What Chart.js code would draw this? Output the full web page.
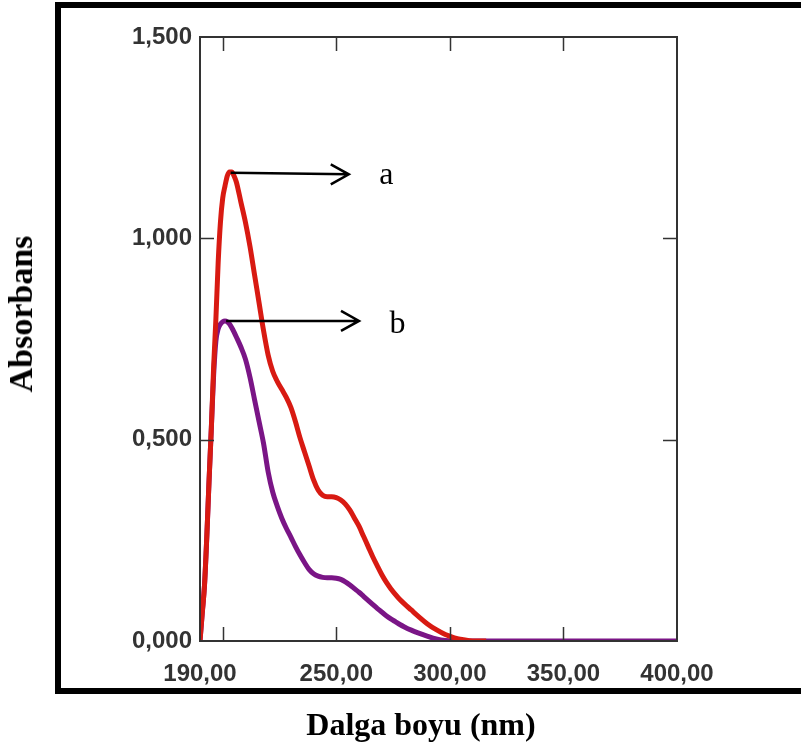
<!DOCTYPE html>
<html>
<head>
<meta charset="utf-8">
<script src="https://cdn.jsdelivr.net/npm/chart.js@4.4.1/dist/chart.umd.min.js"></script>
<style>
  html, body { margin: 0; padding: 0; background: #fff; }
  #wrap { position: relative; width: 801px; height: 747px; overflow: hidden; }
  #frame { position: absolute; left: 55px; top: 2px; width: 800px; height: 680px; border: 6px solid #000; }
  #box { position: absolute; left: 0; top: 0; width: 801px; height: 747px; }
  .title { position: absolute; font-family: "Liberation Serif", "Times New Roman", serif; font-weight: bold; color: #000; white-space: nowrap; line-height: 1; }
  #xTitle { font-size: 32px; line-height: 32px; left: 421px; top: 708px; transform: translateX(-50%); }
  #yTitle { font-size: 34px; line-height: 34px; left: 21px; top: 314px; transform: translate(-50%, -50%) rotate(-90deg); }
</style>
</head>
<body>
<div id="wrap">
  <div id="frame"></div>
  <div id="box"><canvas id="chart"></canvas></div>
  <div class="title" id="xTitle">Dalga boyu (nm)</div>
  <div class="title" id="yTitle">Absorbans</div>
</div>
<script>
// wavelength (nm)
const wavelengths = [
  190, 191, 192, 193, 194, 195, 196, 197, 198, 199, 200, 201, 202, 203, 204, 205, 206,
  208, 210, 212, 214, 216, 218, 220, 222, 224, 226, 228, 230, 232, 234, 236, 238, 240,
  242, 244, 246, 248, 250, 252, 254, 256, 258, 260, 262, 264, 266, 268, 270, 272, 274,
  276, 278, 280, 283, 286, 290, 294, 298, 302, 306, 310, 316, 330, 350, 370, 400
];
// curve a (red) - stops at 316 nm
const absorbA = [
  0.00, 0.07, 0.14, 0.26, 0.40, 0.53, 0.68, 0.80, 0.94, 1.04, 1.10, 1.13, 1.155, 1.165, 1.165, 1.155, 1.14,
  1.09, 1.04, 0.98, 0.91, 0.84, 0.77, 0.71, 0.67, 0.645, 0.625, 0.605, 0.58, 0.545, 0.505, 0.47, 0.435, 0.40,
  0.375, 0.362, 0.358, 0.358, 0.356, 0.35, 0.34, 0.325, 0.305, 0.285, 0.26, 0.235, 0.21, 0.187, 0.165, 0.146, 0.13,
  0.116, 0.103, 0.092, 0.077, 0.062, 0.043, 0.028, 0.016, 0.008, 0.003, 0.0, 0.0
];
// curve b (purple)
const absorbB = [
  0.00, 0.07, 0.14, 0.26, 0.40, 0.53, 0.66, 0.745, 0.775, 0.787, 0.793, 0.795, 0.793, 0.787, 0.778, 0.767, 0.755,
  0.73, 0.70, 0.655, 0.60, 0.545, 0.49, 0.42, 0.37, 0.335, 0.305, 0.28, 0.258, 0.235, 0.214, 0.195, 0.178, 0.167,
  0.161, 0.158, 0.157, 0.157, 0.156, 0.153, 0.147, 0.139, 0.13, 0.121, 0.111, 0.101, 0.091, 0.081, 0.072, 0.063, 0.055,
  0.048, 0.041, 0.035, 0.027, 0.02, 0.012, 0.005, 0.001, 0.0, 0.0, 0.0, 0.0, 0.0, 0.0, 0.0, 0.0
];

const xTickLabels = [190, 250, 300, 350, 400];
const xTickMarks  = [200, 250, 300, 350];
const yTickLabels = [0, 0.5, 1.0, 1.5];
const yTickMarks  = [0.5, 1.0];

// arrows pointing at the two maxima
const arrowNames = ['a', 'b'];
const arrowFrom  = [[203.5, 1.163], [201.5, 0.795]];
const arrowTo    = [[255.5, 1.159], [260.0, 0.795]];
const arrowText  = [[272.0, 1.165], [277.0, 0.795]];

const toPoints = (xs, ys) => ys.map((y, i) => ({ x: xs[i], y }));

const AXIS = '#333';
const tickFont = { family: '"Liberation Sans", Arial, sans-serif', size: 24, weight: 'bold' };

// box around the plot, inward tick marks, arrows and letters
const framePlugin = {
  id: 'frameTicks',
  afterDatasetsDraw(chart) {
    const { ctx, chartArea: a, scales: { x, y } } = chart;
    ctx.save();
    ctx.strokeStyle = AXIS;
    ctx.lineWidth = 2;
    ctx.strokeRect(a.left, a.top, a.right - a.left, a.bottom - a.top);

    ctx.lineWidth = 1.5;
    ctx.beginPath();
    xTickMarks.forEach(v => {
      const px = Math.round(x.getPixelForValue(v)) + 0.5;
      ctx.moveTo(px, a.bottom); ctx.lineTo(px, a.bottom - 14);
      ctx.moveTo(px, a.top);    ctx.lineTo(px, a.top + 14);
    });
    yTickMarks.forEach(v => {
      const py = Math.round(y.getPixelForValue(v)) + 0.5;
      ctx.moveTo(a.left, py);  ctx.lineTo(a.left + 14, py);
      ctx.moveTo(a.right, py); ctx.lineTo(a.right - 14, py);
    });
    ctx.stroke();

    ctx.strokeStyle = '#000';
    ctx.fillStyle = '#000';
    ctx.lineWidth = 2.5;
    ctx.font = '32px "Liberation Serif", "Times New Roman", serif';
    ctx.textAlign = 'center';
    ctx.textBaseline = 'middle';
    arrowNames.forEach((name, i) => {
      const x0 = x.getPixelForValue(arrowFrom[i][0]), y0 = y.getPixelForValue(arrowFrom[i][1]);
      const x1 = x.getPixelForValue(arrowTo[i][0]),   y1 = y.getPixelForValue(arrowTo[i][1]);
      ctx.beginPath();
      ctx.moveTo(x0, y0); ctx.lineTo(x1, y1);
      ctx.moveTo(x1 - 18, y1 - 10); ctx.lineTo(x1, y1); ctx.lineTo(x1 - 18, y1 + 10);
      ctx.stroke();
      ctx.fillText(name, x.getPixelForValue(arrowText[i][0]), y.getPixelForValue(arrowText[i][1]) + 4);
    });
    ctx.restore();
  }
};

new Chart(document.getElementById('chart'), {
  type: 'line',
  data: {
    datasets: [
      {
        label: 'a',
        data: toPoints(wavelengths, absorbA),
        borderColor: '#d81a12',
        borderWidth: 5,
        pointRadius: 0,
        cubicInterpolationMode: 'monotone',
        order: 0
      },
      {
        label: 'b',
        data: toPoints(wavelengths, absorbB),
        borderColor: '#7a1586',
        borderWidth: 5,
        pointRadius: 0,
        cubicInterpolationMode: 'monotone',
        order: 1
      }
    ]
  },
  options: {
    responsive: true,
    maintainAspectRatio: false,
    animation: false,
    layout: { padding: { left: 0, top: 37, right: 124, bottom: 0 } },
    plugins: { legend: { display: false }, tooltip: { enabled: false } },
    scales: {
      x: {
        type: 'linear',
        min: 190,
        max: 400,
        grid: { display: false },
        border: { display: false },
        afterBuildTicks: s => { s.ticks = xTickLabels.map(v => ({ value: v })); },
        afterFit: s => { s.height = 106; },
        ticks: {
          color: AXIS,
          font: tickFont,
          padding: 11,
          maxRotation: 0,
          autoSkip: false,
          callback: v => v.toFixed(2).replace('.', ',')
        }
      },
      y: {
        min: 0,
        max: 1.5,
        grid: { display: false },
        border: { display: false },
        afterBuildTicks: s => { s.ticks = yTickLabels.map(v => ({ value: v })); },
        afterFit: s => { s.width = 200; },
        ticks: {
          color: AXIS,
          font: tickFont,
          padding: 0,
          callback: v => v.toFixed(3).replace('.', ',')
        }
      }
    }
  },
  plugins: [framePlugin]
});
</script>
</body>
</html>
